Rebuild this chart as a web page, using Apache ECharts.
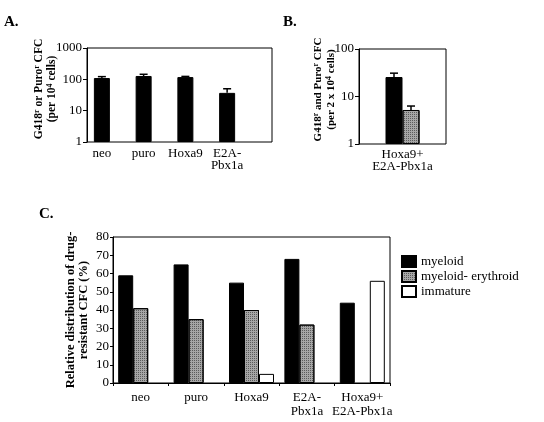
<!DOCTYPE html>
<html><head><meta charset="utf-8">
<script src="https://cdn.jsdelivr.net/npm/echarts@6/dist/echarts.min.js"></script>
<style>html,body{margin:0;padding:0;background:#fff}#c{width:544px;height:422px}</style>
</head><body><div id="c"></div>
<script>
// ---- data ----
const aCategories = ['neo', 'puro', 'Hoxa9', 'E2A-\nPbx1a'];
const aValues = [110, 128, 118, 37];
const aErrHigh = [122, 145, 124, 50];

const bCategories = ['Hoxa9+\nE2A-Pbx1a'];
const bBlack = [25.7];
const bBlackErr = [31];
const bGray = [5.2];
const bGrayErr = [6.3];

const cCategories = ['neo', 'puro', 'Hoxa9', 'E2A-\nPbx1a', 'Hoxa9+\nE2A-Pbx1a'];
const cMyeloid = [59, 65, 55, 68, 44];
const cMyeloidErythroid = [41, 35, 40, 32, null];
const cImmature = [null, null, 5, null, 56];
const cSeriesNames = ['myeloid', 'myeloid- erythroid', 'immature'];

// ---- styles ----
const FONT = 'Liberation Serif';
const txt = {fontFamily: FONT, fontSize: 13, color: '#000'};
const blackStyle = {color: '#000', borderColor: '#000', borderWidth: 1};
const grayStyle = {
  color: '#a6a6a6', borderColor: '#000', borderWidth: 1,
  decal: {symbol: 'rect', symbolSize: 1, dashArrayX: [1, 1], dashArrayY: [1, 1], color: 'rgba(0,0,0,0.45)', rotation: 0}
};
const whiteStyle = {color: '#fff', borderColor: '#000', borderWidth: 1};
function richOf(size) {
  return {
    n: {fontFamily: FONT, fontSize: size, fontWeight: 'bold', color: '#000', lineHeight: 13},
    s: {fontFamily: FONT, fontSize: 8, fontWeight: 'bold', color: '#000', verticalAlign: 'top', lineHeight: 13}
  };
}

function errSeries(xi, yi, data, shift) {
  return {
    type: 'custom', xAxisIndex: xi, yAxisIndex: yi, data: data, z: 5,
    renderItem: function (params, api) {
      const b = api.coord([api.value(0), api.value(1)]);
      const t = api.coord([api.value(0), api.value(2)]);
      const x = b[0] + shift;
      return {type: 'group', children: [
        {type: 'line', shape: {x1: x, y1: b[1], x2: x, y2: t[1]}, style: {stroke: '#000', lineWidth: 1.5}},
        {type: 'line', shape: {x1: x - 4, y1: t[1], x2: x + 4, y2: t[1]}, style: {stroke: '#000', lineWidth: 1.5}}
      ]};
    }
  };
}

const titleStyle = {fontFamily: FONT, fontSize: 15, fontWeight: 'bold', color: '#000'};
const hiddenAxis = {show: false};
const option = {
  animation: false,
  backgroundColor: '#fff',
  title: [
    {text: 'A.', left: 4, top: 15, padding: 0, textStyle: titleStyle},
    {text: 'B.', left: 283, top: 15, padding: 0, textStyle: titleStyle},
    {text: 'C.', left: 39, top: 207, padding: 0, textStyle: titleStyle}
  ],
  grid: [
    {left: 87, top: 48, width: 185, height: 94, show: true, borderColor: '#000', borderWidth: 1, backgroundColor: 'transparent'},
    {left: 81, top: 48, width: 167, height: 94},
    {left: 359, top: 49, width: 87, height: 95, show: true, borderColor: '#000', borderWidth: 1, backgroundColor: 'transparent'},
    {left: 113, top: 237, width: 277, height: 146, show: true, borderColor: '#000', borderWidth: 1, backgroundColor: 'transparent'}
  ],
  legend: {
    data: cSeriesNames, orient: 'vertical', left: 401, top: 255, padding: 0,
    itemWidth: 14, itemHeight: 11, itemGap: 2, icon: 'rect',
    textStyle: {fontFamily: FONT, fontSize: 13, color: '#000', lineHeight: 13}
  },
  xAxis: [
    Object.assign({gridIndex: 0, type: 'value'}, hiddenAxis),
    {gridIndex: 1, type: 'category', data: aCategories, axisLine: {show: false}, axisTick: {show: false},
     axisLabel: Object.assign({interval: 0, margin: 6, lineHeight: 12}, txt)},
    {gridIndex: 2, type: 'category', data: bCategories, axisLine: {show: false}, axisTick: {show: false},
     axisLabel: Object.assign({interval: 0, margin: 5, lineHeight: 12}, txt)},
    {gridIndex: 3, type: 'category', data: cCategories, axisLine: {show: true, lineStyle: {color: '#000'}},
     axisTick: {show: true, length: 3, lineStyle: {color: '#000'}},
     axisLabel: Object.assign({interval: 0, margin: 8, lineHeight: 14}, txt)}
  ],
  yAxis: [
    Object.assign({gridIndex: 0, type: 'value'}, hiddenAxis),
    {gridIndex: 1, type: 'log', logBase: 10, min: 1, max: 1000, offset: -6,
     axisLine: {show: true, lineStyle: {color: '#000'}}, axisTick: {show: true, length: 4, lineStyle: {color: '#000'}},
     splitLine: {show: false}, minorTick: {show: false},
     axisLabel: Object.assign({margin: 5, formatter: v => String(v)}, txt),
     name: '{n|G418}{s|r}{n| or Puro}{s|r}{n| CFC}\n{n|(per 10}{s|4}{n| cells)}',
     nameLocation: 'middle', nameRotate: 90, nameGap: 28, nameMoveOverlap: false,
     nameTextStyle: {rich: richOf(11.5), padding: [0, 0, 0, 12]}},
    {gridIndex: 2, type: 'log', logBase: 10, min: 1, max: 100,
     axisLine: {show: true, lineStyle: {color: '#000'}}, axisTick: {show: true, length: 4, lineStyle: {color: '#000'}},
     splitLine: {show: false}, minorTick: {show: false},
     axisLabel: Object.assign({margin: 5, formatter: v => String(v)}, txt),
     name: '{n|G418}{s|r}{n| and Puro}{s|r}{n| CFC}\n{n|(per 2 x 10}{s|4}{n| cells)}',
     nameLocation: 'middle', nameRotate: 90, nameGap: 21, nameMoveOverlap: false,
     nameTextStyle: {rich: richOf(11), padding: [0, 0, 0, 14]}},
    {gridIndex: 3, type: 'value', min: 0, max: 80, interval: 10,
     axisLine: {show: true, lineStyle: {color: '#000'}}, axisTick: {show: true, length: 3, lineStyle: {color: '#000'}},
     splitLine: {show: false},
     axisLabel: Object.assign({margin: 4}, txt),
     name: '{n|Relative distribution of drug-}\n{n|resistant CFC (%)}',
     nameLocation: 'middle', nameRotate: 90, nameGap: 23, nameMoveOverlap: false,
     nameTextStyle: {rich: richOf(12.5)}}
  ],
  series: [
    {type: 'bar', xAxisIndex: 1, yAxisIndex: 1, data: aValues, barWidth: 16, itemStyle: blackStyle},
    errSeries(1, 1, aCategories.map((c, i) => [i, aValues[i], aErrHigh[i]]), 0),
    {type: 'bar', xAxisIndex: 2, yAxisIndex: 2, data: bBlack, barWidth: 17, barGap: 0, itemStyle: blackStyle},
    {type: 'bar', xAxisIndex: 2, yAxisIndex: 2, data: bGray, barWidth: 17, barGap: 0, itemStyle: grayStyle},
    errSeries(2, 2, bCategories.map((c, i) => [i, bBlack[i], bBlackErr[i]]), -8.5),
    errSeries(2, 2, bCategories.map((c, i) => [i, bGray[i], bGrayErr[i]]), 8.5),
    {name: cSeriesNames[0], type: 'bar', xAxisIndex: 3, yAxisIndex: 3, data: cMyeloid, barWidth: 15, barGap: 0, itemStyle: blackStyle},
    {name: cSeriesNames[1], type: 'bar', xAxisIndex: 3, yAxisIndex: 3, data: cMyeloidErythroid, barWidth: 15, barGap: 0, itemStyle: grayStyle},
    {name: cSeriesNames[2], type: 'bar', xAxisIndex: 3, yAxisIndex: 3, data: cImmature, barWidth: 15, barGap: 0, itemStyle: whiteStyle}
  ]
};
const chart = echarts.init(document.getElementById('c'), null, {renderer: 'canvas'});
chart.setOption(option);
</script>
</body></html>
